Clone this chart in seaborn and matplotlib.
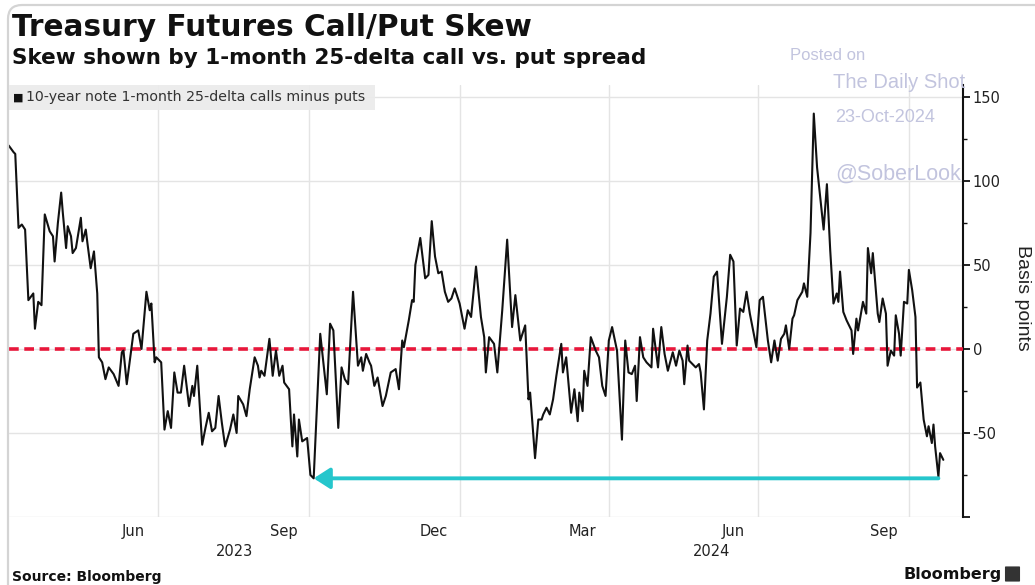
import matplotlib
matplotlib.use("Agg")
import numpy as np
import pandas as pd
import matplotlib.pyplot as plt
import matplotlib.dates as mdates
import matplotlib.transforms as mtransforms
from matplotlib import font_manager as fm
from matplotlib.patches import FancyBboxPatch, Rectangle
from matplotlib.ticker import FixedLocator, NullFormatter, FixedFormatter
import seaborn as sns

# ---------------- data ----------------
title = "Treasury Futures Call/Put Skew"
subtitle = "Skew shown by 1-month 25-delta call vs. put spread"
series_label = "10-year note 1-month 25-delta calls minus puts"
y_label = "Basis points"
source_text = "Source: Bloomberg"
brand_text = "Bloomberg"
watermark = ["Posted on", "The Daily Shot", "23-Oct-2024", "@SoberLook"]

start_date = "2023-04-01"
day_offsets = [
    0, 3, 4, 6, 8, 10, 12, 15, 16, 18, 20, 22, 25, 27, 28, 30, 32, 33, 35, 36,
    38, 39, 41, 44, 45, 47, 48, 50, 52, 54, 55, 57, 59, 61, 64, 67, 69, 70, 72, 76,
    79, 81, 84, 86, 87, 89, 90, 93, 95, 97, 99, 101, 103, 105, 107, 110, 112, 113, 115, 118,
    120, 122, 124, 126, 128, 130, 132, 135, 137, 139, 140, 143, 145, 147, 150, 152, 153, 154, 156, 159,
    161, 163, 165, 167, 168, 171, 173, 174, 176, 177, 179, 182, 184, 186, 190, 194, 196, 198, 201, 203,
    205, 207, 210, 213, 215, 216, 218, 220, 221, 223, 225, 228, 230, 233, 236, 238, 240, 241, 244, 246,
    247, 248, 251, 254, 256, 258, 260, 262, 264, 266, 268, 270, 272, 275, 278, 280, 282, 285, 288, 290,
    291, 293, 296, 298, 301, 304, 307, 309, 312, 315, 317, 318, 321, 323, 325, 326, 328, 330, 332, 334,
    337, 338, 340, 341, 343, 345, 347, 348, 350, 351, 353, 355, 358, 360, 362, 364, 366, 368, 371, 374,
    376, 378, 380, 382, 383, 385, 387, 389, 392, 393, 396, 398, 400, 402, 405, 407, 409, 411, 412, 414,
    415, 417, 419, 421, 422, 424, 426, 428, 430, 432, 435, 438, 440, 442, 444, 446, 448, 450, 452, 456,
    458, 460, 463, 465, 467, 469, 471, 473, 474, 476, 478, 479, 481, 484, 485, 487, 489, 491, 493, 496,
    497, 499, 501, 503, 505, 506, 507, 509, 511, 514, 515, 517, 518, 521, 523, 524, 526, 527, 530, 531,
    533, 535, 536, 538, 540, 541, 543, 544, 546, 548, 549, 551, 553, 554, 556, 558, 560, 561, 563, 564,
    565, 567, 568, 570,
]
skew_bp = [
    121, 117, 116, 72, 74, 71, 29, 33, 12, 28, 26, 80, 70, 67, 52, 75, 93, 81, 60, 73,
    67, 57, 60, 78, 64, 71, 63, 48, 58, 33, -5, -8, -18, -11, -15, -22, -2, -1, -21, 9,
    11, 0, 34, 23, 27, -8, -5, -8, -48, -37, -47, -14, -26, -26, -10, -34, -22, -28, -10, -57,
    -47, -38, -49, -47, -28, -44, -58, -48, -39, -50, -28, -33, -40, -24, -5, -10, -17, -13, -16, 6,
    -16, -1, -16, -10, -20, -24, -58, -39, -64, -42, -55, -53, -75, -77, 9, -27, 15, 11, -47, -11,
    -18, -21, 34, -10, -5, -13, -3, -8, -10, -22, -17, -34, -28, -14, -12, -24, 5, 1, 17, 29,
    28, 50, 66, 42, 44, 76, 55, 45, 46, 34, 28, 30, 36, 27, 12, 23, 19, 49, 19, 7,
    -14, 7, 3, -14, 23, 65, 13, 32, 5, 14, -30, -26, -65, -42, -42, -39, -35, -39, -30, -16,
    3, -14, -5, -16, -38, -24, -43, -26, -37, -13, -22, 7, -1, -5, -22, -28, 5, 13, -1, -54,
    5, -14, -15, -10, -31, 7, -5, -8, -11, 12, -11, 13, -3, -13, -2, -10, -1, -7, -21, 2,
    -7, -9, -11, -9, -14, -36, 5, 21, 43, 46, 3, 31, 56, 52, 2, 24, 22, 34, 21, 1,
    29, 31, 5, -8, 5, -7, 6, 9, 14, 0, 18, 20, 29, 34, 39, 31, 69, 140, 108, 80,
    71, 98, 59, 27, 33, 28, 46, 22, 17, 11, -3, 18, 11, 28, 21, 60, 45, 57, 21, 16,
    30, 21, -10, -1, -4, 20, 9, -4, 28, 27, 47, 35, 19, -23, -20, -42, -52, -46, -56, -45,
    -58, -76, -62, -66,
]

month_tick_dates = ["2023-06-16", "2023-09-16", "2023-12-16", "2024-03-16", "2024-06-16", "2024-09-16"]
month_tick_labels = ["Jun", "Sep", "Dec", "Mar", "Jun", "Sep"]
quarter_dates = ["2023-07-01", "2023-10-01", "2024-01-01", "2024-04-01", "2024-07-01", "2024-10-01"]
year_labels = ["2023", "2024"]
year_boundary = "2024-01-01"
x_range = ["2023-04-01", "2024-11-03"]
y_range = [-100, 157]
y_ticks = [-100, -50, 0, 50, 100, 150]
y_tick_labels = ["", "-50", "0", "50", "100", "150"]
y_minor_ticks = [-75, -25, 25, 75, 125]

# ---------------- style ----------------
sns.set_theme(style="white")
names = {f.name for f in fm.fontManager.ttflist}
HAS_NARROW = "Liberation Sans Narrow" in names
NARROW = "Liberation Sans Narrow" if HAS_NARROW else "DejaVu Sans"
ARIAL = "Liberation Sans" if "Liberation Sans" in names else "DejaVu Sans"
tick_fs = 14 if HAS_NARROW else 10.5
plt.rcParams["font.family"] = ["DejaVu Sans"]
plt.rcParams["lines.scale_dashes"] = False

W, H = 1035, 585
fig = plt.figure(figsize=(W / 100, H / 100), dpi=100)
fig.patch.set_facecolor("white")


def fx(px):
    return px / W


def fy(py):
    return 1 - py / H


ax_l, ax_r, ax_t, ax_b = 8.7, 963, 85, 517
ax = fig.add_axes([fx(ax_l), fy(ax_b), fx(ax_r - ax_l), (ax_b - ax_t) / H])
ax.set_facecolor("white")

df = pd.DataFrame({
    "date": pd.Timestamp(start_date) + pd.to_timedelta(day_offsets, unit="D"),
    "skew": skew_bp,
})

sns.lineplot(data=df, x="date", y="skew", ax=ax, color="#111111", lw=1.5,
             legend=False, zorder=5)

# zero line
ax.axhline(0, color="#e8173b", lw=2.6, dashes=(7, 4), zorder=4)

# cyan arrow from latest low back to the 2023 low
lo_idx = int(np.argmin(skew_bp))
recent = [i for i, d in enumerate(day_offsets) if d >= day_offsets[-1] - 10]
end_idx = min(recent, key=lambda i: skew_bp[i])
level = skew_bp[lo_idx]
ax.annotate("", xy=(df["date"][lo_idx], level), xytext=(df["date"][end_idx], level),
            arrowprops=dict(arrowstyle="-|>,head_length=0.7,head_width=0.45",
                            color="#25c6cc", lw=2.8, shrinkA=0, shrinkB=0,
                            mutation_scale=14),
            zorder=6)

# axes limits & ticks
ax.set_xlim(pd.Timestamp(x_range[0]), pd.Timestamp(x_range[1]))
ax.set_ylim(*y_range)

qn = mdates.date2num(pd.to_datetime(quarter_dates))
mn = mdates.date2num(pd.to_datetime(month_tick_dates))
ax.xaxis.set_major_locator(FixedLocator(qn))
ax.xaxis.set_major_formatter(NullFormatter())
ax.xaxis.set_minor_locator(FixedLocator(mn))
ax.xaxis.set_minor_formatter(FixedFormatter(month_tick_labels))
ax.tick_params(axis="x", which="both", length=0, pad=5, labelsize=tick_fs,
               labelcolor="#222222", bottom=True)
for lab in ax.xaxis.get_minorticklabels():
    lab.set_fontfamily(NARROW)

ax.yaxis.tick_right()
ax.set_yticks(y_ticks)
ax.set_yticklabels(y_tick_labels)
ax.yaxis.set_minor_locator(FixedLocator(y_minor_ticks))
ax.tick_params(axis="y", which="major", direction="out", length=5, width=1.3,
               color="#111111", pad=2, labelsize=tick_fs, labelcolor="#222222",
               right=True, left=False, labelright=True, labelleft=False)
ax.tick_params(axis="y", which="minor", direction="out", length=3, width=1.0,
               color="#111111", right=True, left=False)
for lab in ax.get_yticklabels():
    lab.set_fontfamily(NARROW)

ax.set_xlabel("")
ax.set_ylabel("")
ax.grid(True, which="major", axis="both", color="#e4e4e4", lw=1.0, zorder=0)
for s in ["top", "left", "bottom"]:
    ax.spines[s].set_visible(False)
ax.spines["right"].set_color("#111111")
ax.spines["right"].set_linewidth(1.5)

# year labels centred under visible part of each year
blend = mtransforms.blended_transform_factory(ax.transData, fig.transFigure)
xl0, xl1 = ax.get_xlim()
yb = mdates.date2num(pd.Timestamp(year_boundary))
for lab, xc in zip(year_labels, [(xl0 + yb) / 2, (yb + xl1) / 2]):
    ax.text(xc, fy(552), lab, transform=blend, ha="center", va="center",
            fontsize=tick_fs, color="#222222", family=NARROW, clip_on=False)

# y label
fig.text(fx(1023), fy(298), y_label, rotation=270, ha="center", va="center",
         fontsize=14, color="#222222", family=ARIAL)

# legend box
fig.add_artist(Rectangle((fx(ax_l), fy(110)), fx(375 - ax_l), 25 / H,
                         transform=fig.transFigure, facecolor="#ebebeb",
                         edgecolor="none", alpha=0.92, zorder=2))
fig.text(fx(18), fy(97.5), "\u25A0", fontsize=8, color="#111111",
         ha="center", va="center", zorder=3)
fig.text(fx(26), fy(97.5), series_label, fontsize=10.2, color="#333333",
         ha="left", va="center", zorder=3)

# titles
fig.text(fx(12), fy(36), title, fontsize=21.3, fontweight="bold",
         color="#111111", ha="left", va="baseline")
fig.text(fx(12), fy(64), subtitle, fontsize=15.5, fontweight="bold",
         color="#111111", ha="left", va="baseline")

# watermark
wm_color = "#c2c4de"
fig.text(fx(790), fy(55), watermark[0], fontsize=12, color=wm_color,
         family=ARIAL, ha="left", va="center", zorder=10)
fig.text(fx(833), fy(83), watermark[1], fontsize=14.5, color=wm_color,
         family=ARIAL, ha="left", va="center", zorder=10)
fig.text(fx(835), fy(118), watermark[2], fontsize=13, color=wm_color,
         family=ARIAL, ha="left", va="center", zorder=10)
fig.text(fx(835), fy(174), watermark[3], fontsize=15.5, color=wm_color,
         family=ARIAL, ha="left", va="center", zorder=10)

# footer
fig.text(fx(12), fy(577), source_text, fontsize=10, fontweight="bold",
         color="#111111", ha="left", va="center")
fig.text(fx(1002), fy(574), brand_text, fontsize=11.5, fontweight="bold",
         color="#111111", ha="right", va="center")
fig.add_artist(FancyBboxPatch((fx(1006), fy(581)), fx(13), 14 / H,
                              boxstyle="round,pad=0.001", transform=fig.transFigure,
                              facecolor="#333333", edgecolor="none"))

# screenshot frame (left/top rounded border)
frame = FancyBboxPatch((8, -40), 1200, 620, boxstyle="round,pad=0,rounding_size=14",
                       transform=mtransforms.IdentityTransform(), facecolor="none",
                       edgecolor="#d4d4d4", lw=1.6, zorder=1)
fig.add_artist(frame)

fig.savefig("out.png", dpi=100, facecolor="white")
